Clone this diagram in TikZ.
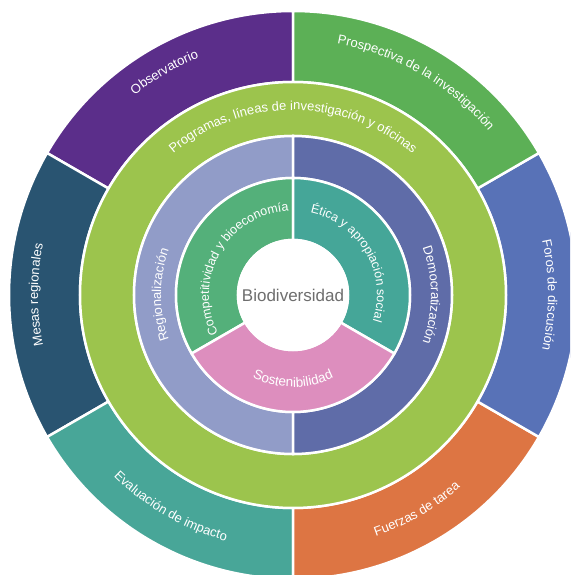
\documentclass[tikz,border=0pt]{standalone}
\usepackage{fontspec}
\setmainfont{Liberation Sans}
\usetikzlibrary{decorations.text}

\definecolor{obsPurple}{RGB}{91,46,138}
\definecolor{mesaBlue}{RGB}{41,84,113}
\definecolor{evalTeal}{RGB}{72,166,152}
\definecolor{tareaOrange}{RGB}{221,117,67}
\definecolor{forosBlue}{RGB}{88,114,183}
\definecolor{prospGreen}{RGB}{92,176,86}
\definecolor{progGreen}{RGB}{156,196,77}
\definecolor{regLavender}{RGB}{145,156,200}
\definecolor{demoBlue}{RGB}{95,108,168}
\definecolor{compGreen}{RGB}{84,176,122}
\definecolor{eticaTeal}{RGB}{69,166,152}
\definecolor{sostPink}{RGB}{221,142,190}
\definecolor{bioGray}{RGB}{110,110,110}

% sector of a ring: colour, inner radius, outer radius, from angle, to angle
\newcommand{\ringpart}[5]{%
  \filldraw[ringpart,fill=#1] (#4:#2) arc[start angle=#4,end angle=#5,radius=#2]
    -- (#5:#3) arc[start angle=#5,end angle=#4,radius=#3] -- cycle;}
% label bent along a ring: [size], radius, from angle, to angle, text
\newcommand{\ringtext}[5][13]{%
  \path[decorate,decoration={text along path,text align=center,
      text={|\fontsize{#1}{#1}\selectfont\color{white}|#5}}]
    (#3:#2) arc[start angle=#3,end angle=#4,radius=#2];}

\begin{document}
\begin{tikzpicture}[x=1pt,y=1pt]
            \tikzstyle{ringpart}=[draw=white,line width=2.5pt]
            \useasboundingbox (-293,-280) rectangle (277,295);
            \clip (-293,-280) rectangle (277,295);

            % outer ring
            \ringpart{obsPurple}{213}{284}{90}{150}
            \ringpart{mesaBlue}{213}{284}{150}{210}
            \ringpart{evalTeal}{213}{284}{210}{270}
            \ringpart{tareaOrange}{213}{284}{270}{330}
            \ringpart{forosBlue}{213}{284}{-30}{30}
            \ringpart{prospGreen}{213}{284}{30}{90}
            % programmes ring, one piece
            \filldraw[ringpart,fill=progGreen,even odd rule]
              (0,0) circle[radius=213] circle[radius=159];
            % two halves
            \ringpart{regLavender}{117}{159}{90}{270}
            \ringpart{demoBlue}{117}{159}{-90}{90}
            % three inner parts
            \ringpart{compGreen}{55}{117}{90}{210}
            \ringpart{eticaTeal}{55}{117}{-30}{90}
            \ringpart{sostPink}{55}{117}{210}{330}
            \filldraw[ringpart,fill=white] (0,0) circle[radius=55];

            \node[text=bioGray,font=\fontsize{17}{17}\selectfont] (bio) at (0,0) {Biodiversidad};

            % labels, clockwise on top, counter-clockwise at the bottom
            \ringtext{255}{150}{90}{Observatorio}
            \ringtext{255}{90}{30}{Prospectiva de la investigación}
            \ringtext{255}{30}{-30}{Foros de discusión}
            \ringtext{255}{210}{150}{Mesas regionales}
            \ringtext{255}{270}{330}{Fuerzas de tarea}
            \ringtext{255}{210}{270}{Evaluación de impacto}
            \ringtext{185}{180}{0}{Programas, líneas de investigación y oficinas}
            \ringtext{132}{270}{90}{Regionalización}
            \ringtext{138}{90}{-90}{Democratización}
            \ringtext[12.5]{84}{240}{60}{Competitividad y bioeconomía}
            \ringtext[12.5]{84}{120}{-60}{Ética y apropiación social}
            \ringtext[13.5]{92}{180}{360}{Sostenibilidad}
        \end{tikzpicture}
\end{document}
